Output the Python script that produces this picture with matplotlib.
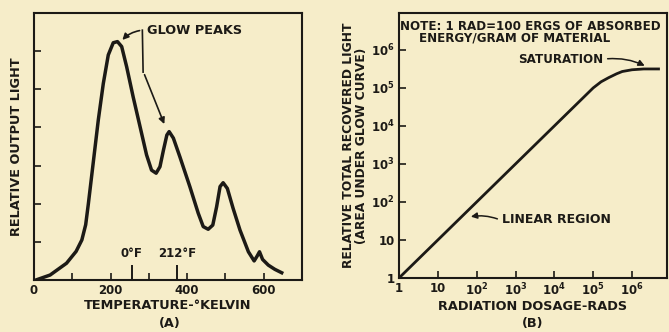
import matplotlib.pyplot as plt
import numpy as np

# (A) glow curve
temp_k = [5, 42, 85, 110, 125, 135, 142, 155, 168, 181, 194, 207, 218, 229, 242, 259,
          277, 294, 307, 319, 329, 338, 347, 353, 364, 381, 407, 429, 442, 455,
          467, 477, 486, 494, 505, 520, 538, 560, 575, 583, 589, 597, 612, 629, 647]
light = [0.0, 0.13, 0.44, 0.75, 1.05, 1.45, 2.0, 3.1, 4.2, 5.15, 5.9, 6.22, 6.25, 6.12,
         5.59, 4.8, 4.02, 3.28, 2.88, 2.8, 2.97, 3.4, 3.8, 3.89, 3.72, 3.23, 2.45,
         1.75, 1.40, 1.33, 1.44, 1.92, 2.45, 2.55, 2.40, 1.88, 1.31, 0.74, 0.50,
         0.63, 0.74, 0.54, 0.39, 0.28, 0.19]
a_xticks = [0, 100, 200, 300, 400, 500, 600]
a_xticklabels = ['0', '', '200', '', '400', '', '600']
a_yticks = [1, 2, 3, 4, 5, 6]
f_marks_k = [255, 373]
f_marks_lbl = ['0°F', '212°F']

# (B) total recovered light vs dose
dose = [1, 10, 1e2, 1e3, 1e4, 1e5, 1.6e5, 2.5e5, 4e5, 5.6e5, 1e6, 2e6, 4.8e6]
recovered = [1, 10, 1e2, 1e3, 1e4, 1e5, 1.45e5, 1.86e5, 2.35e5, 2.7e5, 3.0e5, 3.15e5, 3.15e5]
b_ticks = [1, 10, 1e2, 1e3, 1e4, 1e5, 1e6]
b_ticklabels = ['1', '10', r'$\mathbf{10^2}$', r'$\mathbf{10^3}$', r'$\mathbf{10^4}$',
                r'$\mathbf{10^5}$', r'$\mathbf{10^6}$']

paper = '#f6edc9'
ink = '#1c1a16'
plt.rcParams['font.family'] = 'DejaVu Sans'
plt.rcParams['font.weight'] = 'bold'
plt.rcParams['axes.labelweight'] = 'bold'
plt.rcParams['mathtext.default'] = 'bf'
plt.rcParams['text.color'] = ink
plt.rcParams['axes.labelcolor'] = ink
plt.rcParams['xtick.color'] = ink
plt.rcParams['ytick.color'] = ink
plt.rcParams['axes.edgecolor'] = ink

fig = plt.figure(figsize=(6.69, 3.32), dpi=100, facecolor=paper)

# ---- panel A
ax = fig.add_axes([34/669, 52/332, 268/669, 267/332], facecolor='none')
ax.plot(temp_k, light, color=ink, lw=2.5, solid_joinstyle='round')
ax.set_xlim(0, 700)
ax.set_ylim(0, 7)
ax.set_xticks(a_xticks)
ax.set_xticklabels(a_xticklabels, fontsize=8.5)
ax.set_yticks(a_yticks)
ax.set_yticklabels([])
ax.tick_params(direction='in', length=5, width=1.2, pad=3)
ax.vlines(f_marks_k, 0, 0.4, color=ink, lw=1.4)
for k, s in zip(f_marks_k, f_marks_lbl):
    ax.text(k, 0.52, s, ha='center', va='bottom', fontsize=8.5)
for sp in ax.spines.values():
    sp.set_linewidth(1.5)
ax.set_xlabel('TEMPERATURE-°KELVIN', fontsize=9.3, labelpad=1)
ax.set_ylabel('RELATIVE OUTPUT LIGHT', fontsize=9.3, labelpad=5)

ax.text(296, 6.55, 'GLOW PEAKS', fontsize=9.3, va='center')
ax.plot([283, 285], [6.55, 5.45], color=ink, lw=1.2)
ax.annotate('', xy=(226, 6.24), xytext=(283, 6.55),
            arrowprops=dict(arrowstyle='-|>', color=ink, lw=1.2,
                            connectionstyle='arc3,rad=0.2', mutation_scale=9))
ax.annotate('', xy=(343, 4.02), xytext=(286, 5.45),
            arrowprops=dict(arrowstyle='-|>', color=ink, lw=1.2, mutation_scale=9))
fig.text(170/669, 1 - 323/332, '(A)', ha='center', va='center', fontsize=9.3)

# ---- panel B
bx = fig.add_axes([399/669, 54/332, 268/669, 265/332], facecolor='none')
bx.loglog(dose, recovered, color=ink, lw=2.0)
bx.set_xlim(1, 10**6.9)
bx.set_ylim(1, 10**6.97)
bx.set_xticks(b_ticks)
bx.set_xticklabels(b_ticklabels, fontsize=8.5)
bx.set_yticks(b_ticks)
bx.set_yticklabels(b_ticklabels, fontsize=8.5)
bx.minorticks_off()
bx.tick_params(direction='in', length=5, width=1.2, pad=3)
for sp in bx.spines.values():
    sp.set_linewidth(1.5)
bx.set_xlabel('RADIATION DOSAGE-RADS', fontsize=9.3, labelpad=1)
bx.set_ylabel('RELATIVE TOTAL RECOVERED LIGHT\n(AREA UNDER GLOW CURVE)',
              fontsize=8.8, labelpad=2, linespacing=1.05)

bx.text(0.005, 0.975, 'NOTE: 1 RAD=100 ERGS OF ABSORBED', transform=bx.transAxes,
        fontsize=8.6, va='top')
bx.text(0.075, 0.93, 'ENERGY/GRAM OF MATERIAL', transform=bx.transAxes,
        fontsize=8.6, va='top')
bx.text(10**3.07, 10**5.76, 'SATURATION', fontsize=8.6, va='center')
bx.annotate('', xy=(10**6.39, 10**5.55), xytext=(10**5.3, 10**5.76),
            arrowprops=dict(arrowstyle='-|>', color=ink, lw=1.1,
                            connectionstyle='arc3,rad=-0.15', mutation_scale=9))
bx.text(10**2.65, 10**1.53, 'LINEAR REGION', fontsize=9, va='center')
bx.annotate('', xy=(10**1.78, 10**1.6), xytext=(10**2.6, 10**1.53),
            arrowprops=dict(arrowstyle='-|>', color=ink, lw=1.1,
                            connectionstyle='arc3,rad=0.15', mutation_scale=9))
fig.text(533/669, 1 - 323/332, '(B)', ha='center', va='center', fontsize=9.3)

fig.savefig('out.png', dpi=100, facecolor=paper)
